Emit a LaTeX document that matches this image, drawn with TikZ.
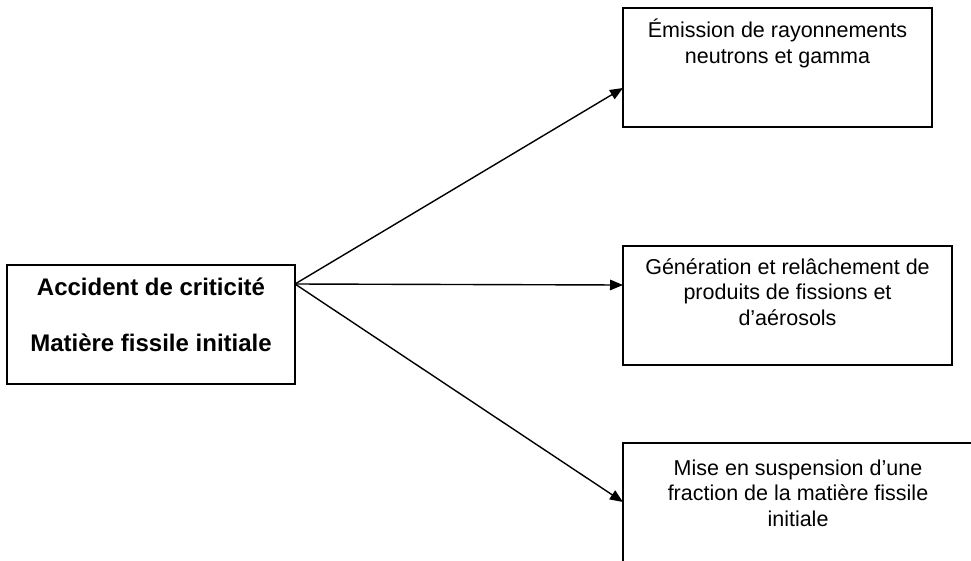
\documentclass[tikz,border=0pt]{standalone}
\usepackage{fontspec}
\setmainfont{Liberation Sans}
\usetikzlibrary{calc,arrows.meta}
\begin{document}
\begin{tikzpicture}[x=1pt,y=-1pt,
  box/.style={draw,line width=1.6pt,rectangle,anchor=north west,inner sep=0pt,outer sep=0pt},
  rtxt/.style={anchor=north,align=center,inner sep=0pt,font=\fontsize{21.5}{25.5}\selectfont},
  ltxt/.style={anchor=north,align=center,inner sep=0pt,font=\bfseries\fontsize{24}{28}\selectfont},
  arr/.style={line width=1.4pt,-{Triangle[length=13pt,width=10.5pt]}}]
\useasboundingbox (0,0) rectangle (971,560);
\clip (0,0) rectangle (971,560);
\fill[white] (0,0) rectangle (971,560);
% boxes
\node[box,minimum width=288pt,minimum height=119pt] (L) at (7,265) {};
\node[box,minimum width=309pt,minimum height=119pt] (T) at (623,8) {};
\node[box,minimum width=329pt,minimum height=119pt] (M) at (623,246) {};
\node[box,minimum width=350pt,minimum height=140pt] (B) at (623,443) {};
% texts
\node[ltxt] (Lt) at ($(L.north)+(0,11)$) {\strut Accident de criticité\\[28pt]Matière fissile initiale};
\node[rtxt] (Tt) at ($(T.north)+(0,11)$) {\strut Émission de rayonnements\\neutrons et gamma};
\node[rtxt] (Mt) at ($(M.north)+(0,10)$) {\strut Génération et relâchement de\\produits de fissions et\\d’aérosols};
\node[rtxt] (Bt) at ($(B.north)+(0,14)$) {\strut Mise en suspension d’une\\fraction de la matière fissile\\initiale};
% connectors
\coordinate (o) at ($(L.north east)+(0,19)$);
\coordinate (t1) at ($(T.north west)+(0,80)$);
\coordinate (t2) at ($(M.north west)+(0,39)$);
\coordinate (t3) at ($(B.north west)+(0,59)$);
\draw[arr] (o) -- (t1);
\draw[arr] (o) -- (t2);
\draw[arr] (o) -- (t3);
\end{tikzpicture}
\end{document}
